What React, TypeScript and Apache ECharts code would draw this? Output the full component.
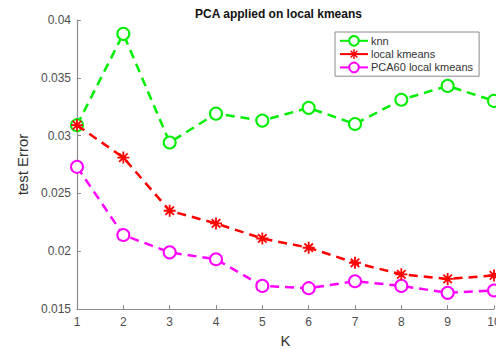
import React, { useEffect, useRef } from "react";
import * as echarts from "echarts";

const kValues = [1, 2, 3, 4, 5, 6, 7, 8, 9, 10];
const knn = [0.0309, 0.0388, 0.0294, 0.0319, 0.0313, 0.0324, 0.031, 0.0331, 0.0343, 0.033];
const localKmeans = [0.0309, 0.0281, 0.0235, 0.0224, 0.0211, 0.0203, 0.019, 0.018, 0.0176, 0.0179];
const pca60 = [0.0273, 0.0214, 0.0199, 0.0193, 0.017, 0.0168, 0.0174, 0.017, 0.0164, 0.0166];
const yTicks = { min: 0.015, max: 0.04, interval: 0.005 };

const ASTERISK =
  "path://M-1 -0.15 L1 -0.15 L1 0.15 L-1 0.15 Z " +
  "M0.15 -1 L0.15 1 L-0.15 1 L-0.15 -1 Z " +
  "M-0.601 -0.813 L0.813 0.601 L0.601 0.813 L-0.813 -0.601 Z " +
  "M0.813 -0.601 L-0.601 0.813 L-0.813 0.601 L0.601 -0.813 Z";

const FONT = "'Liberation Sans', Arial, sans-serif";

export default function App() {
  const ref = useRef<HTMLDivElement>(null);
  useEffect(() => {
    if (!ref.current) return;
    const chart = echarts.init(ref.current, undefined, { renderer: "svg" });
    const pairs = (arr: number[]) => kValues.map((k, i) => [k, arr[i]]);
    const dash = [9, 6];
    chart.setOption({
      animation: false,
      backgroundColor: "#ffffff",
      textStyle: { fontFamily: FONT },
      title: {
        text: "PCA applied on local kmeans",
        left: 190,
        top: 3,
        textStyle: { fontSize: 12, fontWeight: "bold", color: "#111", fontFamily: FONT },
      },
      legend: {
        orient: "vertical",
        left: 335,
        top: 32,
        padding: [3, 6, 3, 4],
        itemGap: 2,
        itemWidth: 28,
        itemHeight: 12,
        borderColor: "#8a8a8a",
        borderWidth: 1,
        backgroundColor: "#fff",
        lineStyle: { type: "solid" },
        textStyle: { fontSize: 11, color: "#333", fontFamily: FONT, padding: [0, 0, 0, -2] },
        data: ["knn", "local kmeans", "PCA60 local kmeans"],
      },
      grid: { left: 77, right: 2, top: 20, bottom: 40, outerBoundsMode: "none", containLabel: false },
      xAxis: {
        type: "value",
        min: 1,
        max: 10,
        interval: 1,
        name: "K",
        nameLocation: "middle",
        nameGap: 24,
        nameTextStyle: { fontSize: 15, color: "#333", fontFamily: FONT },
        axisLine: { show: true, lineStyle: { color: "#8c8c8c", width: 1.2 } },
        axisTick: { show: true, inside: true, length: 4, lineStyle: { color: "#8c8c8c" } },
        axisLabel: { fontSize: 12, color: "#4d4d4d", margin: 7, fontFamily: FONT },
        splitLine: { show: false },
      },
      yAxis: {
        type: "value",
        min: yTicks.min,
        max: yTicks.max,
        interval: yTicks.interval,
        name: "test Error",
        nameLocation: "middle",
        nameGap: 37,
        nameTextStyle: { fontSize: 15, color: "#333", fontFamily: FONT },
        axisLine: { show: true, lineStyle: { color: "#8c8c8c", width: 1.2 } },
        axisTick: { show: true, inside: true, length: 4, lineStyle: { color: "#8c8c8c" } },
        axisLabel: {
          fontSize: 12,
          color: "#4d4d4d",
          margin: 6,
          fontFamily: FONT,
          formatter: (v: number) => String(+v.toFixed(3)),
        },
        splitLine: { show: false },
      },
      series: [
        {
          name: "knn",
          type: "line",
          data: pairs(knn),
          symbol: "circle",
          symbolSize: 12,
          itemStyle: { color: "#ffffff", borderColor: "#00ee00", borderWidth: 2 },
          lineStyle: { color: "#00ee00", width: 2.5, type: dash },
          z: 2,
        },
        {
          name: "local kmeans",
          type: "line",
          data: pairs(localKmeans),
          symbol: ASTERISK,
          symbolSize: 12,
          itemStyle: { color: "#ff0000", borderWidth: 0 },
          lineStyle: { color: "#ff0000", width: 2.5, type: dash },
          z: 3,
        },
        {
          name: "PCA60 local kmeans",
          type: "line",
          data: pairs(pca60),
          symbol: "circle",
          symbolSize: 12,
          itemStyle: { color: "#ffffff", borderColor: "#ff00ff", borderWidth: 2 },
          lineStyle: { color: "#ff00ff", width: 2.5, type: dash },
          z: 2,
        },
      ],
    });
    return () => chart.dispose();
  }, []);
  return (
    <div
      ref={ref}
      style={{ position: "fixed", left: 0, top: 0, width: 496, height: 349 }}
    />
  );
}
